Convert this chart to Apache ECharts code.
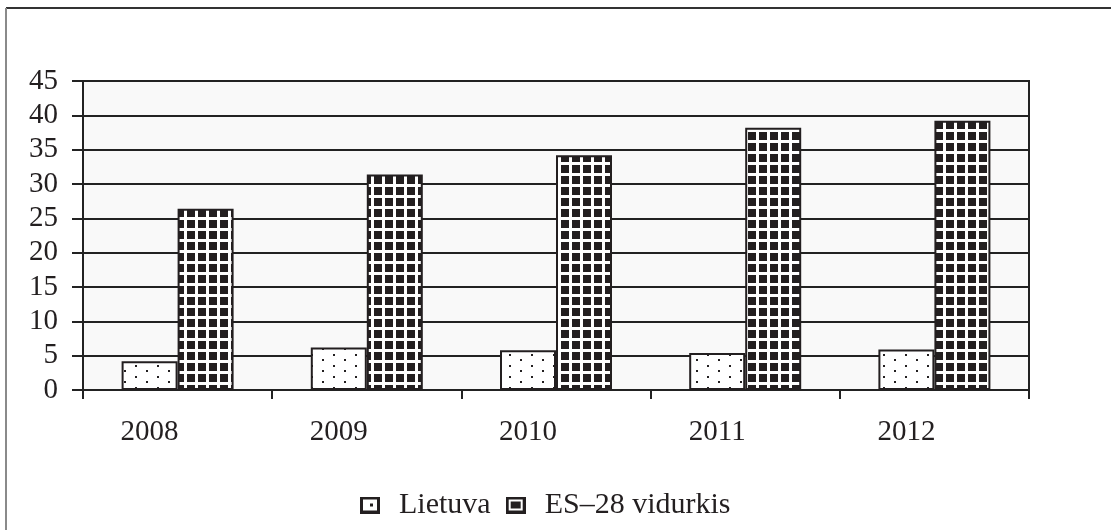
<!DOCTYPE html>
<html>
<head>
<meta charset="utf-8">
<style>
  html, body { margin: 0; padding: 0; background: #ffffff; }
  #chart { width: 1111px; height: 530px; }
</style>
<script src="https://cdn.jsdelivr.net/npm/echarts@6/dist/echarts.min.js"></script>
</head>
<body>
<div id="chart"></div>
<script>
// Years on the category axis
const categories = ['2008', '2009', '2010', '2011', '2012'];
// Values per year
const lietuva = [4.2, 6.2, 5.8, 5.4, 5.9];
const es28 = [26.4, 31.4, 34.2, 38.2, 39.2];
// Series names shown in the legend
const seriesNames = ['Lietuva', 'ES\u201328 vidurkis'];

const INK = '#231f20';
const FONT = '"Liberation Serif", "DejaVu Serif", serif';

// Sparse dot fill
function dotPattern() {
  const c = document.createElement('canvas');
  c.width = 22; c.height = 11;
  const g = c.getContext('2d');
  g.fillStyle = '#ffffff';
  g.fillRect(0, 0, 22, 11);
  g.fillStyle = INK;
  g.fillRect(3, 2, 2, 2);
  g.fillRect(14, 7, 2, 2);
  return c;
}

// Black squares separated by white lines
function gridPattern() {
  const c = document.createElement('canvas');
  c.width = 11; c.height = 11;
  const g = c.getContext('2d');
  g.fillStyle = INK;
  g.fillRect(0, 0, 11, 11);
  g.fillStyle = '#ffffff';
  g.fillRect(8, 0, 3, 11);
  g.fillRect(0, 8, 11, 3);
  return c;
}

// Small legend swatches
function legendIcon(kind) {
  const c = document.createElement('canvas');
  c.width = 20; c.height = 17;
  const g = c.getContext('2d');
  g.fillStyle = INK;
  g.fillRect(0, 0, 20, 17);
  g.fillStyle = '#ffffff';
  g.fillRect(3, 3, 14, 11);
  g.fillStyle = INK;
  if (kind === 'dots') {
    g.fillRect(10, 7, 3, 3);
  } else {
    g.fillRect(5, 5, 10, 7);
  }
  return 'image://' + c.toDataURL();
}

const chart = echarts.init(document.getElementById('chart'), null, { renderer: 'canvas' });

chart.setOption({
  animation: false,
  backgroundColor: '#ffffff',
  textStyle: { fontFamily: FONT, color: INK },
  graphic: [
    { type: 'line', shape: { x1: 6, y1: 8, x2: 1111, y2: 8 }, style: { stroke: '#333333', lineWidth: 2 } },
    { type: 'line', shape: { x1: 6, y1: 8, x2: 6, y2: 530 }, style: { stroke: '#8a8a8a', lineWidth: 2 } }
  ],
  legend: {
    left: 355,
    top: 485,
    itemWidth: 20,
    itemHeight: 17,
    itemGap: 15,
    selectedMode: false,
    textStyle: { fontFamily: FONT, fontSize: 30, color: INK, padding: [0, 0, 0, 14] },
    data: [
      { name: seriesNames[0], icon: legendIcon('dots') },
      { name: seriesNames[1], icon: legendIcon('grid') }
    ]
  },
  grid: {
    left: 83,
    right: 82,
    top: 81,
    bottom: 140,
    show: true,
    backgroundColor: '#f9f9f9',
    borderColor: '#222222',
    borderWidth: 2
  },
  xAxis: {
    type: 'category',
    data: categories,
    boundaryGap: true,
    axisLine: { lineStyle: { color: '#222222', width: 2 } },
    axisTick: { show: true, length: 9, lineStyle: { color: '#222222', width: 2 } },
    axisLabel: {
      fontFamily: FONT,
      fontSize: 29,
      color: INK,
      margin: 28,
      padding: [0, 56, 0, 0]
    }
  },
  yAxis: {
    type: 'value',
    min: 0,
    max: 45,
    interval: 5,
    axisLine: { show: true, lineStyle: { color: '#222222', width: 2 } },
    axisTick: { show: true, length: 11, lineStyle: { color: '#222222', width: 2 } },
    axisLabel: { fontFamily: FONT, fontSize: 29, color: INK, margin: 25 },
    splitLine: { show: true, lineStyle: { color: '#222222', width: 2 } }
  },
  series: [
    {
      name: seriesNames[0],
      type: 'bar',
      data: lietuva,
      barWidth: 56,
      barGap: '0%',
      itemStyle: {
        color: { image: dotPattern(), repeat: 'repeat' },
        borderColor: INK,
        borderWidth: 2
      },
      emphasis: { disabled: true }
    },
    {
      name: seriesNames[1],
      type: 'bar',
      data: es28,
      barWidth: 56,
      barGap: '0%',
      itemStyle: {
        color: { image: gridPattern(), repeat: 'repeat' },
        borderColor: INK,
        borderWidth: 2
      },
      emphasis: { disabled: true }
    }
  ]
});
</script>
</body>
</html>
